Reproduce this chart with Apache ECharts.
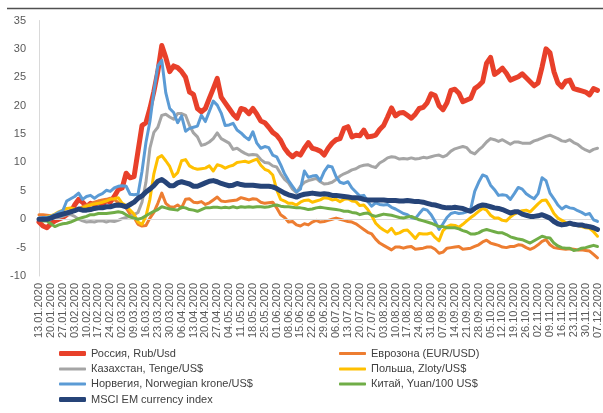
<!DOCTYPE html>
<html>
<head>
<meta charset="utf-8">
<script src="https://cdn.jsdelivr.net/npm/echarts@6/dist/echarts.min.js"></script>
<style>
  html, body { margin: 0; padding: 0; background: #fff; }
  #chart { width: 603px; height: 413px; }
</style>
</head>
<body>
<div id="chart"></div>
<script>
// Weekly tick labels (Mondays); the series are sampled Mon / Wed / Fri.
const tickLabels = ["13.01.2020","20.01.2020","27.01.2020","03.02.2020","10.02.2020","17.02.2020","24.02.2020","02.03.2020","09.03.2020","16.03.2020","23.03.2020","30.03.2020","06.04.2020","13.04.2020","20.04.2020","27.04.2020","04.05.2020","11.05.2020","18.05.2020","25.05.2020","01.06.2020","08.06.2020","15.06.2020","22.06.2020","29.06.2020","06.07.2020","13.07.2020","20.07.2020","27.07.2020","03.08.2020","10.08.2020","17.08.2020","24.08.2020","31.08.2020","07.09.2020","14.09.2020","21.09.2020","28.09.2020","05.10.2020","12.10.2020","19.10.2020","26.10.2020","02.11.2020","09.11.2020","16.11.2020","23.11.2020","30.11.2020","07.12.2020"];

// Change vs. USD since 13.01.2020, %
const russia = [
  -0.5,-1.2,-1.5,-0.8,-0.3,0,0.3,0.8,1.2,2.5,3.5,3.0,
  2.2,2.8,2.5,3.0,2.6,3.3,3.0,4.0,5.2,5.5,8.1,7.3,
  7.5,12.0,16.5,17.0,19.5,22.5,26.0,30.6,28.5,26.0,27.0,26.7,
  26.0,25.0,22.4,22.0,19.5,18.9,19.5,21.3,23.0,24.8,21.5,20.5,
  19.5,18.5,17.8,19.5,19.3,18.6,19.5,18.5,17.3,17.0,16.2,15.3,
  14.8,13.9,12.5,11.6,11.0,11.6,11.3,12.5,13.5,12.5,12.3,12.0,
  11.3,12.5,13.4,14.0,14.2,16.0,16.3,14.5,14.8,14.7,15.7,14.5,
  14.6,14.8,15.8,16.5,18.0,19.6,18.2,18.7,18.8,18.3,17.8,18.5,
  19.5,19.7,20.5,22.1,21.8,20.0,19.3,20.5,22.7,22.9,22.2,20.7,
  21.0,21.3,23.0,23.5,24.2,27.5,28.5,25.5,26.0,26.6,25.7,24.5,
  24.8,25.1,25.6,24.9,24.2,23.5,24.0,26.8,30.0,29.3,26.0,24.0,
  23.3,24.3,24.5,23.0,22.8,22.6,22.4,21.9,23.0,22.7
];
const eurozone = [
  0.8,0.8,0.7,0.6,0.4,0.4,0.6,0.9,1.3,1.6,1.8,2.2,
  2.5,2.7,3.0,3.2,3.4,3.5,3.7,3.5,2.9,2.5,2.0,0.9,
  0.3,-0.9,-1.2,-1.1,0.2,1.2,2.8,4.6,2.8,2.2,2.1,2.5,
  2.0,3.5,3.6,3.0,2.9,3.1,2.6,2.9,3.4,3.9,3.2,3.1,
  3.2,3.3,3.4,3.8,3.6,3.4,3.6,3.5,3.0,2.8,2.9,3.0,
  2.0,0.8,0.3,-0.5,-0.4,-1.0,-1.2,-0.8,-1.0,-0.5,-0.2,-0.5,
  -0.4,-0.2,0.0,0.2,0.0,-0.2,-0.4,-0.5,-0.8,-1.3,-1.8,-2.3,
  -2.6,-3.5,-4.2,-4.6,-5.0,-5.4,-4.9,-4.9,-5.1,-4.9,-4.8,-5.3,
  -5.2,-5.1,-4.9,-4.9,-5.3,-6.0,-5.8,-5.1,-5.0,-4.9,-4.8,-5.3,
  -5.2,-5.1,-4.8,-4.5,-4.0,-3.7,-4.2,-4.4,-4.6,-4.9,-5.0,-4.8,
  -4.8,-4.5,-4.6,-5.0,-5.3,-5.0,-4.5,-3.9,-3.6,-4.5,-5.0,-5.1,
  -5.2,-5.3,-5.2,-5.3,-5.4,-5.4,-5.5,-5.6,-6.2,-6.8
];
const kazakhstan = [
  0,0,0,0.2,0.3,0.3,0.5,0.8,0.8,0.5,0,-0.3,
  -0.5,-0.4,-0.5,-0.3,-0.3,-0.5,-0.3,-0.4,-0.2,0.1,0.3,0.5,
  0.8,1.2,3.0,6.5,12.5,15.3,16.2,18.3,18.5,18.0,17.6,18.6,
  18.6,18.3,16.5,15.2,14.5,13.0,13.2,13.6,14.2,15.2,14.2,13.8,
  13.4,12.3,12.5,12.0,11.6,11.3,11.4,11.3,10.5,10.0,9.9,9.4,
  9.2,8.0,7.0,6.4,5.3,4.7,5.8,6.5,6.8,7.0,7.2,6.6,
  6.2,6.3,6.5,7.0,7.6,8.0,8.3,8.7,8.9,9.3,9.5,9.6,
  9.3,9.1,9.9,10.3,10.8,11.0,10.9,10.6,10.7,10.6,10.8,10.6,
  10.7,10.9,10.8,11.0,11.2,11.3,11.0,11.3,12.0,12.4,12.6,12.8,
  12.6,11.8,11.5,12.2,12.8,13.6,14.2,14.0,13.7,14.0,13.6,13.2,
  13.6,13.6,13.4,13.4,13.4,13.8,14.0,14.3,14.6,14.8,14.5,14.2,
  13.8,13.7,14.0,13.5,13.2,12.6,12.2,11.9,12.3,12.5
];
const poland = [
  0,0.2,0.4,0.6,0.9,1.3,1.6,1.9,2.0,1.8,1.7,2.0,
  2.3,2.5,2.7,2.8,3.0,3.2,3.5,3.6,3.8,2.8,2.4,1.6,
  0.9,-0.5,-0.9,0.5,3.5,8.0,10.8,11.2,10.3,9.3,7.5,8.2,
  10.3,10.5,9.4,9.0,8.8,8.9,9.0,9.4,8.5,9.6,9.4,9.0,
  9.3,9.5,10.0,10.1,10.2,10.0,10.3,10.6,9.5,8.8,8.5,7.8,
  5.2,3.5,3.2,2.8,2.8,2.5,3.0,3.3,3.4,3.0,3.2,3.4,
  3.8,3.7,3.4,3.5,3.1,3.5,3.6,3.2,3.1,2.4,2.5,1.7,
  0.6,-0.7,-1.4,-1.9,-2.3,-1.6,-2.6,-2.4,-2.0,-1.9,-2.6,-3.4,
  -2.5,-2.6,-2.6,-2.4,-3.2,-3.8,-2.0,-1.3,-1.0,-1.1,-1.4,-0.9,
  -0.3,0.3,0.8,1.4,1.9,1.6,0.7,0.2,0.2,-0.2,-0.3,0.4,
  0.9,1.3,1.5,1.6,1.3,2.0,2.7,3.3,3.4,2.3,1.0,0.2,
  -0.2,-0.6,-0.8,-1.0,-1.1,-1.3,-1.5,-1.6,-2.2,-3.0
];
const norway = [
  0.2,0.3,0.3,0.5,0.8,1.2,1.5,3.2,3.6,4.0,4.6,3.5,
  4.0,4.2,3.7,4.2,4.5,5.1,4.9,5.5,5.8,5.9,5.8,4.4,
  4.3,4.4,8.4,13.5,17.2,22.5,27.0,28.0,22.3,19.5,18.8,17.0,
  18.2,15.5,16.0,16.2,16.4,18.3,17.2,19.0,20.8,20.1,18.7,16.5,
  16.6,16.9,15.7,15.2,14.5,14.0,15.4,13.4,12.5,12.8,12.6,11.3,
  11.0,9.6,8.0,6.8,5.8,4.8,5.3,8.5,7.4,7.6,7.7,6.8,
  8.4,9.4,9.2,7.5,6.5,6.3,6.6,5.5,4.8,4.1,4.2,3.1,
  2.3,2.9,2.6,2.5,2.6,2.1,1.8,1.4,1.0,0.8,0.3,0.1,
  1.0,1.8,1.6,0.8,-0.4,-1.8,-0.8,0.3,1.0,1.2,1.0,1.1,
  1.3,1.8,4.9,6.5,7.8,7.5,6.0,5.2,4.2,4.3,4.2,3.5,
  4.5,5.6,5.3,4.5,4.0,3.6,4.5,7.3,6.8,4.6,3.6,2.5,
  1.8,2.3,2.0,1.9,1.5,1.2,0.8,1.0,-0.1,-0.4
];
const china = [
  0,-0.3,-0.3,-0.8,-1.3,-1.0,-0.8,-0.7,-0.5,-0.2,0.1,0.3,
  0.5,0.8,0.8,1.0,1.0,1.0,1.1,1.2,1.3,1.2,0.8,0.4,
  0.2,0.0,0.2,0.6,1.0,1.4,1.7,2.2,2.0,1.8,1.7,1.6,
  2.1,2.0,1.7,1.6,1.4,1.7,2.0,2.0,2.1,2.1,2.0,2.1,
  2.0,2.2,2.0,2.2,2.1,2.2,2.1,2.2,2.2,2.1,2.2,2.4,
  2.5,2.3,2.2,2.2,2.1,2.0,2.0,1.9,1.7,1.8,2.0,2.1,
  2.0,1.9,1.8,1.7,1.6,1.4,1.4,1.2,1.1,0.8,1.0,1.1,
  0.7,0.5,0.7,0.9,0.8,0.7,0.5,0.3,0.2,0.4,0.5,0.2,
  -0.1,-0.3,-0.5,-0.7,-1.0,-1.3,-1.3,-1.5,-1.5,-1.5,-1.7,-2.0,
  -2.2,-2.6,-2.6,-2.4,-2.0,-1.8,-2.0,-2.2,-2.4,-2.4,-2.7,-3.1,
  -3.3,-3.5,-3.6,-3.9,-4.2,-3.8,-3.4,-3.0,-3.2,-3.3,-4.2,-4.7,
  -5.0,-5.1,-5.1,-5.5,-5.4,-5.1,-5.0,-4.8,-4.6,-4.8
];
const msciEm = [
  0,0,0,0.2,0.5,0.7,0.9,1.1,1.3,1.5,1.8,1.6,
  1.6,1.7,1.9,2.0,2.0,2.2,2.2,2.4,2.5,2.4,2.2,2.6,
  3.0,3.7,4.1,4.8,5.3,5.9,6.7,7.0,6.5,5.9,5.9,6.4,
  6.6,6.4,6.2,5.8,5.8,6.1,6.4,6.7,6.8,6.6,6.3,6.1,
  5.9,6.0,6.3,6.1,6.0,6.0,6.0,5.9,5.8,5.8,5.8,5.7,
  5.4,5.0,4.6,4.3,4.1,3.9,4.2,4.4,4.5,4.6,4.5,4.4,
  4.5,4.4,4.2,4.2,4.1,4.0,3.9,3.8,3.8,3.7,3.5,3.4,
  3.4,3.4,3.4,3.4,3.3,3.3,3.3,3.2,3.2,3.3,3.2,3.1,
  3.1,3.0,2.8,2.6,2.5,2.3,2.1,2.0,2.0,2.1,2.0,1.9,
  1.6,1.4,1.9,2.3,2.5,2.4,2.2,2.0,1.9,1.7,1.4,1.1,
  1.3,1.3,0.9,0.7,0.5,0.5,0.6,0.8,0.5,0.2,-0.4,-0.8,
  -1.0,-0.9,-0.7,-0.9,-1.0,-1.0,-1.2,-1.3,-1.5,-1.8
];

const seriesNames = [
  "Россия, Rub/Usd",
  "Еврозона (EUR/USD)",
  "Казахстан, Tenge/US$",
  "Польша, Zloty/US$",
  "Норвегия, Norwegian krone/US$",
  "Китай, Yuan/100 US$",
  "MSCI EM currency index"
];
const seriesValues = [russia, eurozone, kazakhstan, poland, norway, china, msciEm];

// Mon, Wed, Fri for every week
function pad(n) { return (n < 10 ? "0" : "") + n; }
function shiftDate(label, days) {
  const [d, m, y] = label.split(".").map(Number);
  const t = new Date(Date.UTC(y, m - 1, d + days));
  return pad(t.getUTCDate()) + "." + pad(t.getUTCMonth() + 1) + "." + t.getUTCFullYear();
}
const categories = tickLabels
  .flatMap(l => [l, shiftDate(l, 2), shiftDate(l, 4)])
  .slice(0, russia.length);

const styles = [
  { color: "#E8402A", width: 5 },
  { color: "#ED7D31", width: 3 },
  { color: "#A5A5A5", width: 3 },
  { color: "#FFC000", width: 3 },
  { color: "#5B9BD5", width: 3 },
  { color: "#70AD47", width: 3 },
  { color: "#264478", width: 5 }
];

const FONT = "Liberation Sans";

const series = seriesValues.map((vals, i) => ({
  name: seriesNames[i],
  type: "line",
  data: vals,
  showSymbol: false,
  symbol: "none",
  z: 2 + i,
  color: styles[i].color,
  lineStyle: { color: styles[i].color, width: styles[i].width, join: "round", cap: "round" }
}));

// horizontal line at zero, drawn beneath the currency lines
series.unshift({
  name: "zeroLine",
  type: "line",
  data: [],
  z: 1,
  silent: true,
  markLine: {
    silent: true,
    symbol: "none",
    label: { show: false },
    lineStyle: { color: "#d9d9d9", width: 1.2, type: "solid" },
    emphasis: { disabled: true },
    data: [{ yAxis: 0 }]
  }
});

// two legend columns, one legend block per entry
const legendSlots = [
  [59, 348, 5], [339, 348, 3],
  [59, 363.5, 3], [339, 363.5, 3],
  [59, 378.5, 3], [339, 378.5, 3],
  [59, 394, 5]
];
const legends = seriesNames.map((name, i) => ({
  data: [name],
  left: legendSlots[i][0],
  top: legendSlots[i][1],
  padding: 0,
  itemGap: 0,
  itemWidth: 27,
  itemHeight: legendSlots[i][2],
  icon: "roundRect",
  selectedMode: false,
  textStyle: { fontFamily: FONT, fontSize: 11, color: "#404040" }
}));

const chart = echarts.init(document.getElementById("chart"), null, { renderer: "canvas" });
chart.setOption({
  animation: false,
  backgroundColor: "#ffffff",
  grid: { left: 39, right: 2, top: 20.5, bottom: 137, containLabel: false },
  legend: legends,
  graphic: [{
    type: "line",
    shape: { x1: 7, y1: 8.5, x2: 603, y2: 8.5 },
    style: { stroke: "#505050", lineWidth: 1.5 }
  }],
  xAxis: {
    type: "category",
    data: categories,
    boundaryGap: false,
    axisLine: { show: false, onZero: false },
    axisTick: { show: false },
    axisLabel: {
      interval: 2,
      rotate: 90,
      margin: 7,
      fontFamily: FONT,
      fontSize: 11,
      color: "#595959"
    },
    splitLine: { show: false }
  },
  yAxis: {
    type: "value",
    min: -10,
    max: 35,
    interval: 5,
    axisLine: { show: true, lineStyle: { color: "#d9d9d9", width: 1 } },
    axisTick: { show: false },
    splitLine: { show: false },
    axisLabel: { fontFamily: FONT, fontSize: 11, color: "#595959", margin: 13 }
  },
  series: series
});
</script>
</body>
</html>
